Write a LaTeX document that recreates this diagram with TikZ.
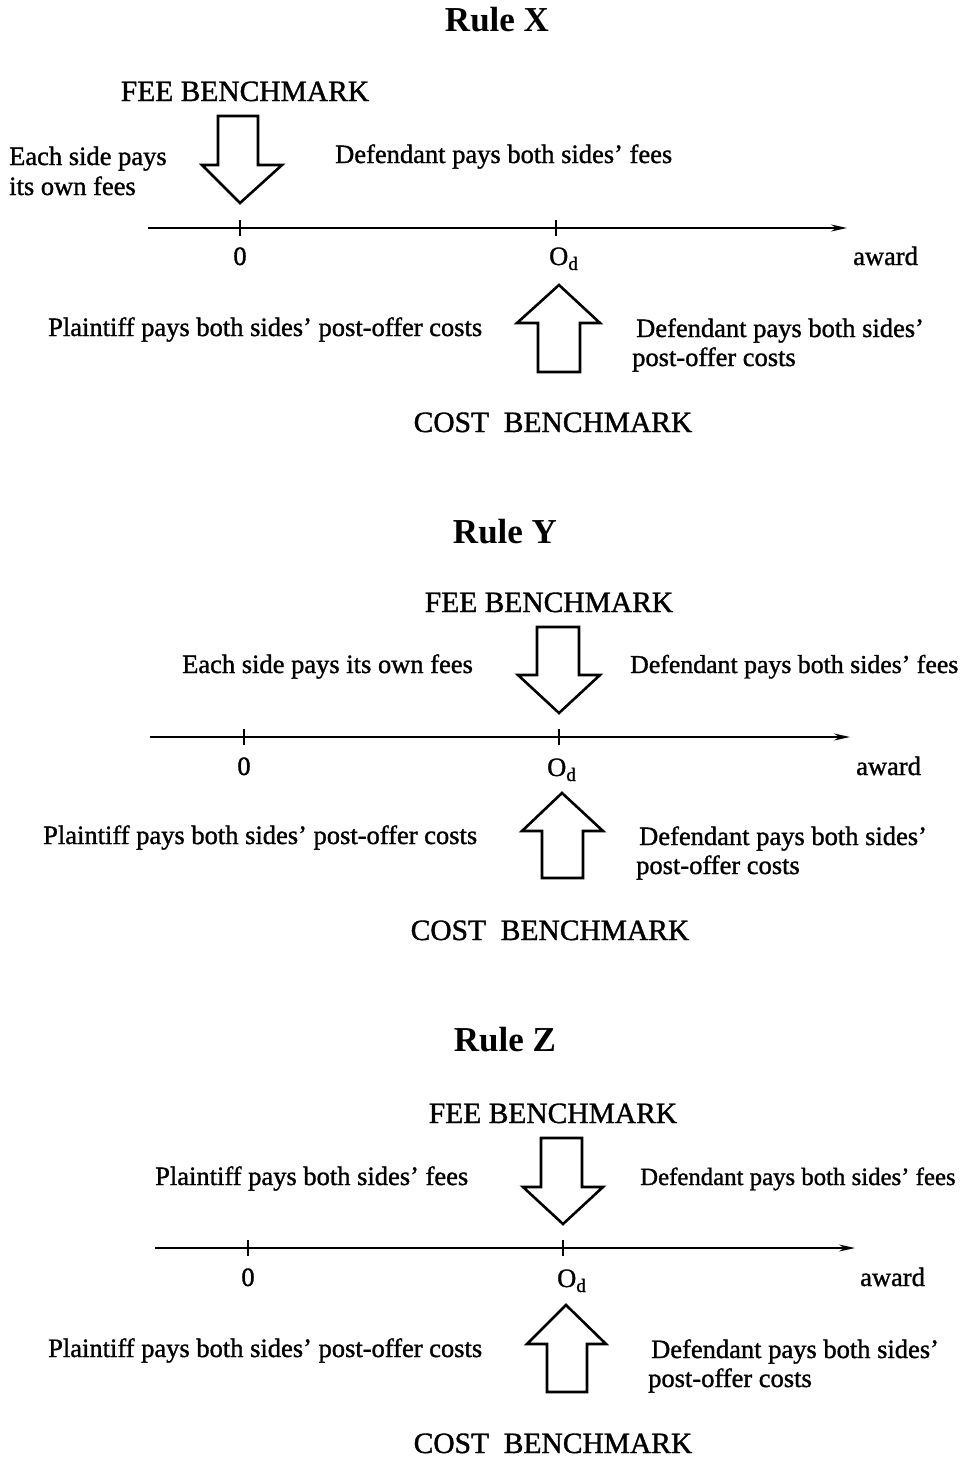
\documentclass[tikz,border=0pt]{standalone}
\usepackage{fontspec}
\setmainfont{Liberation Serif}[UprightFeatures={FakeBold=1.2}]
\usetikzlibrary{arrows.meta}
\newcommand{\Od}{O\raisebox{-5pt}{\fontsize{19}{19}\selectfont d}}
\tikzset{
  txt/.style={inner sep=0pt, font=\fontsize{26.5}{30}\selectfont},
  captxt/.style={inner sep=0pt, font=\fontsize{29.5}{30}\selectfont},
  ttl/.style={inner sep=0pt, font=\fontsize{35}{38}\selectfont\bfseries},
  axisline/.style={line width=1.8pt, -{Stealth[length=16pt,width=7pt]}},
  axtick/.style={line width=1.8pt},
  blockarrow/.style={line width=2.6pt, line join=miter},
}
\begin{document}
\begin{tikzpicture}[x=1pt,y=-1pt]
\useasboundingbox (0,0) rectangle (966,1460);
% ================= Rule X =================
\node[ttl, anchor=base] (tX) at (497,31) {Rule X};
\node[captxt, anchor=base] (feeX) at (245,101) {FEE BENCHMARK};
\draw[blockarrow] (218,116)--(258,116)--(258,165)--(282,165)--(240,203)--(202,165)--(218,165)--cycle;
\node[txt, anchor=base west] (eX1) at (9,165) {Each side pays};
\node[txt, anchor=base west] (eX2) at (9,195) {its own fees};
\node[txt, anchor=base west] (dX) at (335,163) {Defendant pays both sides' fees};
\coordinate (aXs) at (148,228);
\coordinate (aXe) at (847,228);
\draw[axisline] (aXs) -- (aXe);
\coordinate (zX) at (240,228);
\coordinate (oX) at (556,228);
\draw[axtick] ([yshift=-8]zX) -- ([yshift=8]zX);
\draw[axtick] ([yshift=-8]oX) -- ([yshift=8]oX);
\node[txt, anchor=base] (zXl) at (240,265) {0};
\node[txt, anchor=base west] (oXl) at (549,265) {\Od};
\node[txt, anchor=base west] (awX) at (853,265) {award};
\draw[blockarrow] (559,285)--(600,323)--(580,323)--(580,372)--(538,372)--(538,323)--(517,323)--cycle;
\node[txt, anchor=base west] (pX) at (48,336) {Plaintiff pays both sides' post-offer costs};
\node[txt, anchor=base west] (dX1) at (636,337) {Defendant pays both sides'};
\node[txt, anchor=base west] (dX2) at (632,366) {post-offer costs};
\node[captxt, anchor=base] (costX) at (553,432) {COST\ \ BENCHMARK};
% ================= Rule Y =================
\node[ttl, anchor=base] (tY) at (505,543) {Rule Y};
\node[captxt, anchor=base] (feeY) at (549,612) {FEE BENCHMARK};
\draw[blockarrow] (537,627)--(579,627)--(579,675)--(600,675)--(559,713)--(518,675)--(537,675)--cycle;
\node[txt, anchor=base west] (eY) at (182,673) {Each side pays its own fees};
\node[txt, anchor=base west, font=\fontsize{25.8}{30}\selectfont] (dY) at (630,673) {Defendant pays both sides' fees};
\coordinate (aYs) at (150,737);
\coordinate (aYe) at (850,737);
\draw[axisline] (aYs) -- (aYe);
\coordinate (zY) at (244,737);
\coordinate (oY) at (559,737);
\draw[axtick] ([yshift=-8]zY) -- ([yshift=8]zY);
\draw[axtick] ([yshift=-8]oY) -- ([yshift=8]oY);
\node[txt, anchor=base] (zYl) at (244,775) {0};
\node[txt, anchor=base west] (oYl) at (547,776) {\Od};
\node[txt, anchor=base west] (awY) at (856,775) {award};
\draw[blockarrow] (562,793)--(603,831)--(583,831)--(583,878)--(542,878)--(542,831)--(522,831)--cycle;
\node[txt, anchor=base west] (pY) at (43,844) {Plaintiff pays both sides' post-offer costs};
\node[txt, anchor=base west] (dY1) at (639,845) {Defendant pays both sides'};
\node[txt, anchor=base west] (dY2) at (636,874) {post-offer costs};
\node[captxt, anchor=base] (costY) at (550,940) {COST\ \ BENCHMARK};
% ================= Rule Z =================
\node[ttl, anchor=base] (tZ) at (505,1051) {Rule Z};
\node[captxt, anchor=base] (feeZ) at (553,1123) {FEE BENCHMARK};
\draw[blockarrow] (541,1138)--(582,1138)--(582,1187)--(603,1187)--(563,1224)--(523,1187)--(541,1187)--cycle;
\node[txt, anchor=base west] (pZf) at (155,1185) {Plaintiff pays both sides' fees};
\node[txt, anchor=base west, font=\fontsize{24.8}{30}\selectfont] (dZf) at (640,1185) {Defendant pays both sides' fees};
\coordinate (aZs) at (155,1248);
\coordinate (aZe) at (855,1248);
\draw[axisline] (aZs) -- (aZe);
\coordinate (zZ) at (248,1248);
\coordinate (oZ) at (563,1248);
\draw[axtick] ([yshift=-8]zZ) -- ([yshift=8]zZ);
\draw[axtick] ([yshift=-8]oZ) -- ([yshift=8]oZ);
\node[txt, anchor=base] (zZl) at (248,1286) {0};
\node[txt, anchor=base west] (oZl) at (557,1287) {\Od};
\node[txt, anchor=base west] (awZ) at (860,1286) {award};
\draw[blockarrow] (566,1305)--(606,1344)--(587,1344)--(587,1392)--(547,1392)--(547,1344)--(527,1344)--cycle;
\node[txt, anchor=base west] (pZ) at (48,1357) {Plaintiff pays both sides' post-offer costs};
\node[txt, anchor=base west] (dZ1) at (651,1358) {Defendant pays both sides'};
\node[txt, anchor=base west] (dZ2) at (648,1387) {post-offer costs};
\node[captxt, anchor=base] (costZ) at (553,1453) {COST\ \ BENCHMARK};
\end{tikzpicture}
\end{document}
